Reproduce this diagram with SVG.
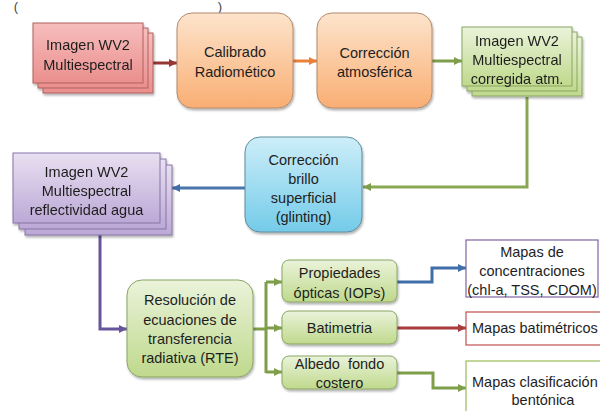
<svg xmlns="http://www.w3.org/2000/svg" width="600" height="411" viewBox="0 0 600 411">
<defs>
<linearGradient id="gPink" x1="0" y1="0" x2="0" y2="1"><stop offset="0" stop-color="#f6bebd"/><stop offset="1" stop-color="#ea8f8d"/></linearGradient>
<linearGradient id="gOrange" x1="0" y1="0" x2="0" y2="1"><stop offset="0" stop-color="#fde4cc"/><stop offset="1" stop-color="#f9ae73"/></linearGradient>
<linearGradient id="gGreen" x1="0" y1="0" x2="0" y2="1"><stop offset="0" stop-color="#eaf3da"/><stop offset="1" stop-color="#bfd98c"/></linearGradient>
<linearGradient id="gPurple" x1="0" y1="0" x2="0" y2="1"><stop offset="0" stop-color="#e8e0f1"/><stop offset="1" stop-color="#bca8d6"/></linearGradient>
<linearGradient id="gBlue" x1="0" y1="0" x2="0" y2="1"><stop offset="0" stop-color="#cdeef9"/><stop offset="1" stop-color="#74cbe9"/></linearGradient>
<filter id="sh" x="-10%" y="-10%" width="130%" height="130%"><feDropShadow dx="1" dy="2" stdDeviation="1.3" flood-color="#000" flood-opacity="0.3"/></filter>
<marker id="aRed" markerUnits="userSpaceOnUse" markerWidth="10" markerHeight="10" refX="8" refY="4" orient="auto"><path d="M0,0 L8,4 L0,8 Z" fill="#953735"/></marker>
<marker id="aOrange" markerUnits="userSpaceOnUse" markerWidth="10" markerHeight="10" refX="8" refY="4" orient="auto"><path d="M0,0 L8,4 L0,8 Z" fill="#e9813a"/></marker>
<marker id="aGreen" markerUnits="userSpaceOnUse" markerWidth="10" markerHeight="10" refX="8" refY="4" orient="auto"><path d="M0,0 L8,4 L0,8 Z" fill="#7f9e4a"/></marker>
<marker id="aBlue" markerUnits="userSpaceOnUse" markerWidth="10" markerHeight="10" refX="8" refY="4" orient="auto"><path d="M0,0 L8,4 L0,8 Z" fill="#3f6ea8"/></marker>
<marker id="aPurple" markerUnits="userSpaceOnUse" markerWidth="10" markerHeight="10" refX="8" refY="4" orient="auto"><path d="M0,0 L8,4 L0,8 Z" fill="#66559a"/></marker>
<marker id="aDRed" markerUnits="userSpaceOnUse" markerWidth="10" markerHeight="10" refX="8" refY="4" orient="auto"><path d="M0,0 L8,4 L0,8 Z" fill="#a83c3c"/></marker>
</defs>
<style>
text{font-family:"Liberation Sans",Arial,sans-serif;font-size:14.5px;fill:#1e1e1e;text-anchor:middle;white-space:pre}
.pink{fill:url(#gPink);stroke:#b0605e;stroke-width:1}
.orange{fill:url(#gOrange);stroke:#b48a6c;stroke-width:1}
.green{fill:url(#gGreen);stroke:#8aa562;stroke-width:1}
.purple{fill:url(#gPurple);stroke:#8574a6;stroke-width:1}
.blue{fill:url(#gBlue);stroke:#5f8c9c;stroke-width:1}
.out{fill:#ffffff;stroke-width:1.2}
.c{fill:none;stroke-width:3}
</style>
<text x="16" y="11" style="fill:#444;font-size:13px">(</text>
<text x="220" y="11" style="fill:#444;font-size:13px">)</text>
<g id="connectors">
<path class="c" d="M144,63 H177" stroke="#953735" marker-end="url(#aRed)"/>
<path class="c" d="M293,61 H317" stroke="#e9813a" marker-end="url(#aOrange)"/>
<path class="c" d="M432,61 H462" stroke="#7f9e4a" marker-end="url(#aGreen)"/>
<path class="c" d="M527,97 V187 H363" stroke="#8aa752" marker-end="url(#aGreen)"/>
<path class="c" d="M245,188 H172" stroke="#4a75ab" marker-end="url(#aBlue)"/>
<path class="c" d="M100,235 V329 H127" stroke="#66559a" marker-end="url(#aPurple)"/>
<path class="c" d="M253,329 H266" stroke="#7f9e4a"/>
<path class="c" d="M266,282 V373" stroke="#7f9e4a"/>
<path class="c" d="M266,282 H282" stroke="#7f9e4a" marker-end="url(#aGreen)"/>
<path class="c" d="M266,328 H282" stroke="#7f9e4a" marker-end="url(#aGreen)"/>
<path class="c" d="M266,372 H282" stroke="#7f9e4a" marker-end="url(#aGreen)"/>
<path class="c" d="M397,282 H432 V268 H466" stroke="#3f6ea8" marker-end="url(#aBlue)"/>
<path class="c" d="M397,328 H466" stroke="#a83c3c" marker-end="url(#aDRed)"/>
<path class="c" d="M397,373 H433 V388 H466" stroke="#7f9e4a" marker-end="url(#aGreen)"/>
</g>
<g id="n-imagen" filter="url(#sh)">
<rect class="pink" x="43" y="33" width="110" height="60"/>
<rect class="pink" x="38" y="28" width="110" height="60"/>
<rect class="pink" x="33" y="23" width="110" height="60"/>
<text x="88" y="50">Imagen WV2</text>
<text x="88" y="70">Multiespectral</text>
</g>
<g id="n-calibrado">
<rect class="orange" x="177" y="13" width="116" height="95" rx="15" filter="url(#sh)"/>
<text x="235" y="57">Calibrado</text>
<text x="235" y="77">Radiomético</text>
</g>
<g id="n-atm">
<rect class="orange" x="317" y="13" width="115" height="95" rx="15" filter="url(#sh)"/>
<text x="374.5" y="58">Corrección</text>
<text x="374.5" y="77">atmosférica</text>
</g>
<g id="n-corregida" filter="url(#sh)">
<rect class="green" x="472" y="37" width="110" height="59"/>
<rect class="green" x="467" y="32" width="110" height="59"/>
<rect class="green" x="462" y="27" width="110" height="59"/>
<text x="517" y="46">Imagen WV2</text>
<text x="517" y="65">Multiespectral</text>
<text x="517" y="84">corregida atm.</text>
</g>
<g id="n-glint">
<rect class="blue" x="245" y="137" width="117" height="95" rx="15" filter="url(#sh)"/>
<text x="303.5" y="165">Corrección</text>
<text x="303.5" y="184">brillo</text>
<text x="303.5" y="203">superficial</text>
<text x="303.5" y="222">(glinting)</text>
</g>
<g id="n-reflect" filter="url(#sh)">
<rect class="purple" x="25" y="165" width="147" height="70"/>
<rect class="purple" x="19" y="159" width="147" height="70"/>
<rect class="purple" x="13" y="153" width="147" height="70"/>
<text x="86.5" y="177">Imagen WV2</text>
<text x="86.5" y="196">Multiespectral</text>
<text x="86.5" y="215">reflectividad agua</text>
</g>
<g id="n-rte">
<rect class="green" x="127" y="280" width="126" height="97" rx="15" filter="url(#sh)"/>
<text x="190" y="305">Resolución de</text>
<text x="190" y="325">ecuaciones de</text>
<text x="190" y="344">transferencia</text>
<text x="190" y="363">radiativa (RTE)</text>
</g>
<g id="n-iops">
<rect class="green" x="282" y="260" width="115" height="42" rx="7" filter="url(#sh)"/>
<text x="339.5" y="278">Propiedades</text>
<text x="339.5" y="298">ópticas (IOPs)</text>
</g>
<g id="n-bat">
<rect class="green" x="282" y="311" width="115" height="33" rx="7" filter="url(#sh)"/>
<text x="339.5" y="333">Batimetria</text>
</g>
<g id="n-albedo">
<rect class="green" x="282" y="356" width="115" height="33" rx="7" filter="url(#sh)"/>
<text x="339.5" y="369">Albedo  fondo</text>
<text x="339.5" y="388">costero</text>
</g>
<g id="n-conc">
<rect class="out" x="466" y="240" width="132" height="57" stroke="#8064a2"/>
<text x="532" y="257">Mapas de</text>
<text x="532" y="276">concentraciones</text>
<text x="532" y="295">(chl-a, TSS, CDOM)</text>
</g>
<g id="n-batmap">
<rect class="out" x="466" y="312" width="145" height="33" stroke="#c0504d"/>
<text x="472" y="333" style="text-anchor:start">Mapas batimétricos</text>
</g>
<g id="n-bent">
<rect class="out" x="466" y="361" width="150" height="60" stroke="#9bbb59"/>
<text x="472" y="387" style="text-anchor:start">Mapas clasificación</text>
<text x="543" y="405">bentónica</text>
</g>
</svg>
